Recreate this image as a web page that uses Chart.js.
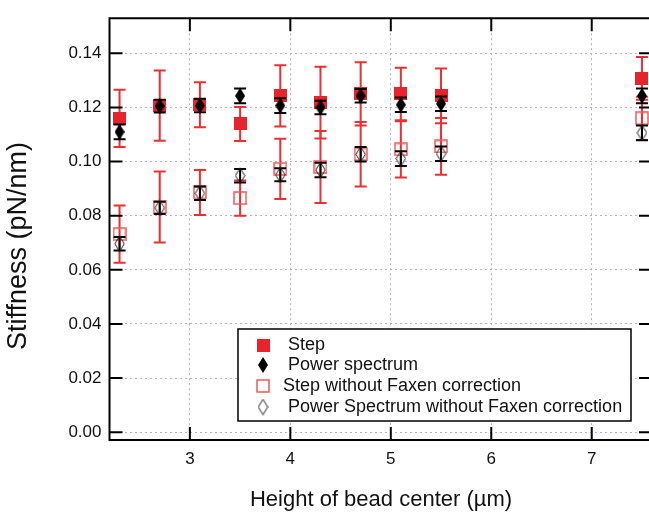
<!DOCTYPE html>
<html lang="en">
<head>
    <meta charset="UTF-8">
    <title>Stiffness vs height of bead center</title>
    <style>
        body {
            margin: 0;
            background-color: white;
            overflow: hidden;
        }
        #wrap {
            width: 657px;
            height: 515px;
        }
    </style>
</head>
<body>

<div id="wrap">
    <canvas id="myChart" width="657" height="515"></canvas>
</div>

<script src="https://cdn.jsdelivr.net/npm/chart.js"></script>

<script>
    // heights of bead center (um)
    const heights = [2.3, 2.7, 3.1, 3.5, 3.9, 4.3, 4.7, 5.1, 5.5, 7.5];

    const stepValues = [0.1160, 0.1207, 0.1210, 0.1139, 0.1243, 0.1218, 0.1250, 0.1250, 0.1243, 0.1308];
    const stepErrors = [0.0106, 0.0130, 0.0083, 0.0063, 0.0113, 0.0133, 0.0117, 0.0097, 0.0101, 0.0079];

    const psValues = [0.1110, 0.1205, 0.1207, 0.1243, 0.1207, 0.1200, 0.1243, 0.1210, 0.1214, 0.1243];
    const psErrors = [0.0027, 0.0024, 0.0025, 0.0027, 0.0027, 0.0025, 0.0025, 0.0027, 0.0027, 0.0027];

    const stepNoFaxValues = [0.0732, 0.0832, 0.0886, 0.0865, 0.0973, 0.0980, 0.1027, 0.1045, 0.1056, 0.1160];
    const stepNoFaxErrors = [0.0106, 0.0131, 0.0083, 0.0065, 0.0111, 0.0133, 0.0119, 0.0104, 0.0105, 0.0080];

    const psNoFaxValues = [0.0696, 0.0829, 0.0883, 0.0948, 0.0951, 0.0969, 0.1027, 0.1011, 0.1029, 0.1106];
    const psNoFaxErrors = [0.0025, 0.0023, 0.0025, 0.0025, 0.0024, 0.0027, 0.0027, 0.0027, 0.0027, 0.0027];

    const xTicks = [3, 4, 5, 6, 7];
    const yTicks = [0.00, 0.02, 0.04, 0.06, 0.08, 0.10, 0.12, 0.14];

    const legendLabels = ['Step', 'Power spectrum', 'Step without Faxen correction', 'Power Spectrum without Faxen correction'];

    const RED = '#e8232b';
    const RED_BAR = '#ee2f2f';
    const FONT = '"Liberation Sans", Arial, sans-serif';

    // marker images
    function makeMarker(w, h, draw) {
        const c = document.createElement('canvas');
        c.width = w; c.height = h;
        draw(c.getContext('2d'), w, h);
        return c;
    }
    const filledSquare = makeMarker(13, 13, (g, w, h) => { g.fillStyle = RED; g.fillRect(0, 0, w, h); });
    const openSquare = makeMarker(14, 14, (g, w, h) => { g.strokeStyle = '#f05a5a'; g.lineWidth = 1.5; g.strokeRect(1, 1, w - 2, h - 2); });
    function diamondPath(g, w, h, inset) {
        g.beginPath();
        g.moveTo(w / 2, inset); g.lineTo(w - inset, h / 2);
        g.lineTo(w / 2, h - inset); g.lineTo(inset, h / 2);
        g.closePath();
    }
    const filledDiamond = makeMarker(10, 16, (g, w, h) => { diamondPath(g, w, h, 0); g.fillStyle = '#000'; g.fill(); });
    const openDiamond = makeMarker(11, 17, (g, w, h) => { diamondPath(g, w, h, 0.8); g.strokeStyle = '#222'; g.lineWidth = 1; g.stroke(); });

    function toPoints(values) {
        return heights.map((h, i) => ({ x: h, y: values[i] }));
    }

    const errorSets = [stepErrors, psErrors, stepNoFaxErrors, psNoFaxErrors];
    const barColors = [RED_BAR, '#000', RED_BAR, '#000'];
    const legendMarkers = [filledSquare, filledDiamond, openSquare, openDiamond];

    // error bars, drawn just under each dataset's markers
    const errorBars = {
        id: 'errorBars',
        beforeDatasetDraw(chart, args) {
            const i = args.index;
            const ds = chart.data.datasets[i];
            const errs = errorSets[i];
            const xs = chart.scales.x, ys = chart.scales.y;
            const ctx = chart.ctx;
            ctx.save();
            ctx.strokeStyle = barColors[i];
            ctx.lineWidth = 2;
            ds.data.forEach((p, k) => {
                const px = xs.getPixelForValue(p.x);
                const top = ys.getPixelForValue(p.y + errs[k]);
                const bot = ys.getPixelForValue(p.y - errs[k]);
                ctx.beginPath();
                ctx.moveTo(px, top); ctx.lineTo(px, bot);
                ctx.moveTo(px - 6, top); ctx.lineTo(px + 6, top);
                ctx.moveTo(px - 6, bot); ctx.lineTo(px + 6, bot);
                ctx.stroke();
            });
            ctx.restore();
        }
    };

    // frame, inward ticks, legend box, axis titles
    const decorations = {
        id: 'decorations',
        afterDraw(chart) {
            const ctx = chart.ctx;
            const a = chart.chartArea;
            const xs = chart.scales.x, ys = chart.scales.y;
            ctx.save();
            ctx.strokeStyle = '#000';
            ctx.lineWidth = 2;
            ctx.beginPath();
            ctx.rect(a.left, a.top, a.right - a.left, a.bottom - a.top);
            const t = 13;
            yTicks.forEach(v => {
                const py = ys.getPixelForValue(v);
                ctx.moveTo(a.left, py); ctx.lineTo(a.left + t, py);
                ctx.moveTo(a.right, py); ctx.lineTo(a.right - t, py);
            });
            xTicks.forEach(v => {
                const px = xs.getPixelForValue(v);
                ctx.moveTo(px, a.bottom); ctx.lineTo(px, a.bottom - t);
                ctx.moveTo(px, a.top); ctx.lineTo(px, a.top + t);
            });
            ctx.stroke();

            // legend
            ctx.fillStyle = '#fff';
            ctx.fillRect(238, 329, 393, 92);
            ctx.lineWidth = 1.5;
            ctx.strokeRect(238, 329, 393, 92);
            ctx.font = '18px ' + FONT;
            ctx.fillStyle = '#111';
            ctx.textBaseline = 'middle';
            const rowsY = [345, 365, 386, 407];
            const textX = [288, 288, 283, 288];
            legendLabels.forEach((label, i) => {
                const m = legendMarkers[i];
                ctx.drawImage(m, 263 - m.width / 2, rowsY[i] - m.height / 2);
                ctx.fillText(label, textX[i], rowsY[i]);
            });

            // axis titles
            ctx.font = '22px ' + FONT;
            ctx.textAlign = 'center';
            ctx.fillText('Height of bead center (\u00b5m)', 381, 500);
            ctx.translate(19, 246);
            ctx.rotate(-Math.PI / 2);
            ctx.font = '27px ' + FONT;
            ctx.fillText('Stiffness (pN/nm)', 0, 0);
            ctx.restore();
        }
    };

    const gridColor = '#aeaedf';

    new Chart(document.getElementById('myChart'), {
        type: 'scatter',
        data: {
            datasets: [
                { label: legendLabels[0], data: toPoints(stepValues), pointStyle: filledSquare, order: 2 },
                { label: legendLabels[1], data: toPoints(psValues), pointStyle: filledDiamond, order: 0 },
                { label: legendLabels[2], data: toPoints(stepNoFaxValues), pointStyle: openSquare, order: 3 },
                { label: legendLabels[3], data: toPoints(psNoFaxValues), pointStyle: openDiamond, order: 1 }
            ]
        },
        options: {
            responsive: false,
            animation: false,
            devicePixelRatio: 1,
            layout: { padding: { top: 8, left: 0, right: 2, bottom: 0 } },
            plugins: { legend: { display: false }, tooltip: { enabled: false } },
            scales: {
                x: {
                    type: 'linear',
                    min: 2.2,
                    max: 7.6,
                    afterBuildTicks: s => { s.ticks = xTicks.map(v => ({ value: v })); },
                    afterFit: s => { s.height = 75; },
                    grid: { color: gridColor, lineWidth: 1, drawTicks: false },
                    border: { display: false, dash: [2, 3] },
                    ticks: { padding: 9, color: '#111', font: { family: FONT, size: 17 }, callback: v => String(v) }
                },
                y: {
                    type: 'linear',
                    min: -0.0029,
                    max: 0.153,
                    afterBuildTicks: s => { s.ticks = yTicks.map(v => ({ value: v })); },
                    afterFit: s => { s.width = 109.5; },
                    grid: { color: gridColor, lineWidth: 1, drawTicks: false },
                    border: { display: false, dash: [2, 3] },
                    ticks: { padding: 8, color: '#111', font: { family: FONT, size: 17 }, callback: v => v.toFixed(2) }
                }
            }
        },
        plugins: [errorBars, decorations]
    });
</script>
</body>
</html>
